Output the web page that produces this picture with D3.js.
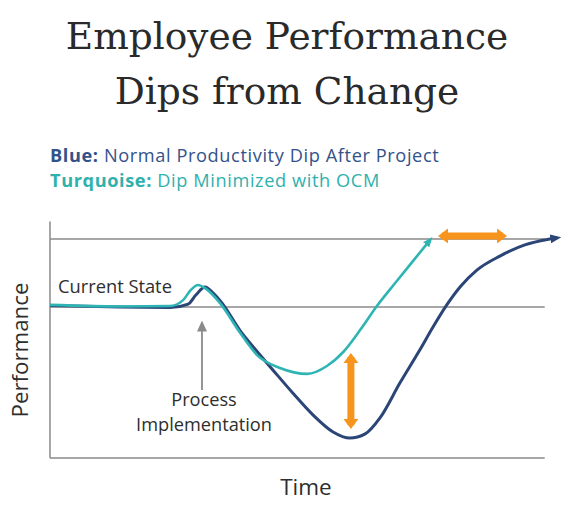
<!DOCTYPE html>
<html><head><meta charset="utf-8">
<script src="https://cdn.jsdelivr.net/npm/d3@7"></script>
<style>
html,body{margin:0;padding:0;background:#fff;}
svg{display:block;}
</style></head>
<body>
<svg id="chart" width="574" height="514"></svg>
<script>
// ---- data (time in 0..100, performance in 0..100; 100 = target state) ----
const titleLines = ["Employee Performance", "Dips from Change"];
const legendItems = [
  {key: "Blue:", text: " Normal Productivity Dip After Project", color: "#33528a"},
  {key: "Turquoise:", text: " Dip Minimized with OCM", color: "#2fb1ad"}
];
const blueT = [0, 13.7, 23.5, 27.1, 28.6, 30.4, 32.0, 33.7, 37.6, 39.2, 43.7, 47.6, 51.6, 55.5, 58.8, 61.8, 64.7, 68.6, 72.5, 75.1, 77.8, 80.4, 83.7, 88.2, 93.1, 97.5, 99.4];
const blueV = [69.6, 68.9, 68.7, 70.3, 74.4, 78.1, 75.3, 70.8, 57.1, 52.5, 40.2, 29.7, 19.6, 11.9, 9.1, 11.0, 18.3, 34.2, 49.3, 59.8, 69.9, 78.1, 85.8, 92.2, 97.3, 99.8, 100.5];
const turqT = [0, 13.7, 23.5, 26.1, 27.6, 29.0, 30.6, 33.3, 37.3, 40.6, 45.1, 50.4, 54.3, 57.5, 60.8, 64.1, 68.0, 71.2, 74.5];
const turqV = [69.9, 69.2, 69.4, 72.1, 76.7, 79.0, 77.2, 70.8, 57.1, 47.0, 41.1, 38.4, 42.0, 48.4, 58.4, 69.4, 80.8, 90.0, 99.5];
const currentState = 69;
const targetState = 100;
const axisTop = 108;
const refEndT = 97;
const implT = 29.8, implArrow = [31, 64.4];
const gapT = 59, gapV = [49.3, 11.9];
const lagV = 101.4, lagT = [75.5, 90.2];
const labels = {current: "Current State", impl: ["Process", "Implementation"], x: "Time", y: "Performance"};

// ---- drawing ----
const svg = d3.select("#chart");
const x = d3.scaleLinear().domain([0, 100]).range([50, 560]);
const y = d3.scaleLinear().domain([0, 100]).range([458, 239]);

const defs = svg.append("defs");
function marker(id, color, w, h) {
  defs.append("marker").attr("id", id).attr("markerUnits", "userSpaceOnUse")
    .attr("viewBox", `0 ${-h/2} ${w} ${h}`).attr("refX", w*0.6).attr("refY", 0)
    .attr("markerWidth", w).attr("markerHeight", h).attr("orient", "auto-start-reverse")
    .append("path").attr("d", `M0,${-h/2}L${w},0L0,${h/2}Z`).attr("fill", color);
}
marker("mBlue", "#2b4577", 11, 9);
marker("mTurq", "#2fb4b4", 10, 8);
marker("mGray", "#8a8a8a", 11, 10);
marker("mOrange", "#f7941d", 10, 15);

// title
const title = svg.append("text").attr("text-anchor", "middle")
  .attr("font-family", "'DejaVu Serif', serif").attr("font-size", 37.5).attr("fill", "#2a2a2a");
title.selectAll("tspan").data(titleLines).join("tspan")
  .attr("x", 287).attr("y", (d, i) => 49 + i * 55).text(d => d);

// legend
const lg = svg.append("text").attr("font-family", "'Open Sans', sans-serif")
  .attr("font-size", 18.2).attr("letter-spacing", 0.6);
legendItems.forEach((d, i) => {
  lg.append("tspan").attr("x", 50).attr("y", 162 + i * 25).attr("font-weight", 700)
    .attr("fill", d.color).text(d.key);
  lg.append("tspan").attr("fill", d.color).text(d.text);
});

// frame & reference lines
const gray = "#8a8a8a";
svg.append("line").attr("x1", x(0)).attr("x2", x(0)).attr("y1", y(axisTop)).attr("y2", y(0))
  .attr("stroke", gray).attr("stroke-width", 1.5);
[0, currentState, targetState].forEach(v => {
  svg.append("line").attr("x1", x(0)).attr("x2", x(refEndT)).attr("y1", y(v)).attr("y2", y(v))
    .attr("stroke", gray).attr("stroke-width", 1.5);
});

// curves
const line = d3.line().x(d => x(d[0])).y(d => y(d[1])).curve(d3.curveMonotoneX);
const blue = blueT.map((t, i) => [t, blueV[i]]);
const turq = turqT.map((t, i) => [t, turqV[i]]);
svg.append("path").attr("d", line(blue)).attr("fill", "none")
  .attr("stroke", "#2b4577").attr("stroke-width", 3).attr("marker-end", "url(#mBlue)");
svg.append("path").attr("d", line(turq)).attr("fill", "none")
  .attr("stroke", "#2fb4b4").attr("stroke-width", 2.6).attr("marker-end", "url(#mTurq)");

// implementation arrow
svg.append("line").attr("x1", x(implT)).attr("x2", x(implT)).attr("y1", y(implArrow[0])).attr("y2", y(implArrow[1]) + 8)
  .attr("stroke", gray).attr("stroke-width", 1.8).attr("marker-end", "url(#mGray)");

// orange arrows
svg.append("line").attr("x1", x(gapT)).attr("x2", x(gapT)).attr("y1", y(gapV[0]) + 7).attr("y2", y(gapV[1]) - 7)
  .attr("stroke", "#f7941d").attr("stroke-width", 7)
  .attr("marker-start", "url(#mOrange)").attr("marker-end", "url(#mOrange)");
svg.append("line").attr("x1", x(lagT[0]) + 7).attr("x2", x(lagT[1]) - 7).attr("y1", y(lagV)).attr("y2", y(lagV))
  .attr("stroke", "#f7941d").attr("stroke-width", 7)
  .attr("marker-start", "url(#mOrange)").attr("marker-end", "url(#mOrange)");

// labels
const font = "'Open Sans', sans-serif";
svg.append("text").attr("x", 58).attr("y", 293).attr("font-family", font).attr("font-size", 18.3)
  .attr("fill", "#2e2e2e").text(labels.current);
const impl = svg.append("text").attr("text-anchor", "middle")
  .attr("font-family", font).attr("font-size", 18.2).attr("fill", "#2e2e2e");
impl.selectAll("tspan").data(labels.impl).join("tspan")
  .attr("x", 204).attr("y", (d, i) => 406 + i * 25).text(d => d);
svg.append("text").attr("x", 306).attr("y", 495).attr("text-anchor", "middle")
  .attr("font-family", font).attr("font-size", 22.5).attr("fill", "#2e2e2e").text(labels.x);
svg.append("text").attr("transform", "translate(28,350) rotate(-90)").attr("text-anchor", "middle")
  .attr("font-family", font).attr("font-size", 22.3).attr("fill", "#2e2e2e").text(labels.y);
</script>
</body></html>
